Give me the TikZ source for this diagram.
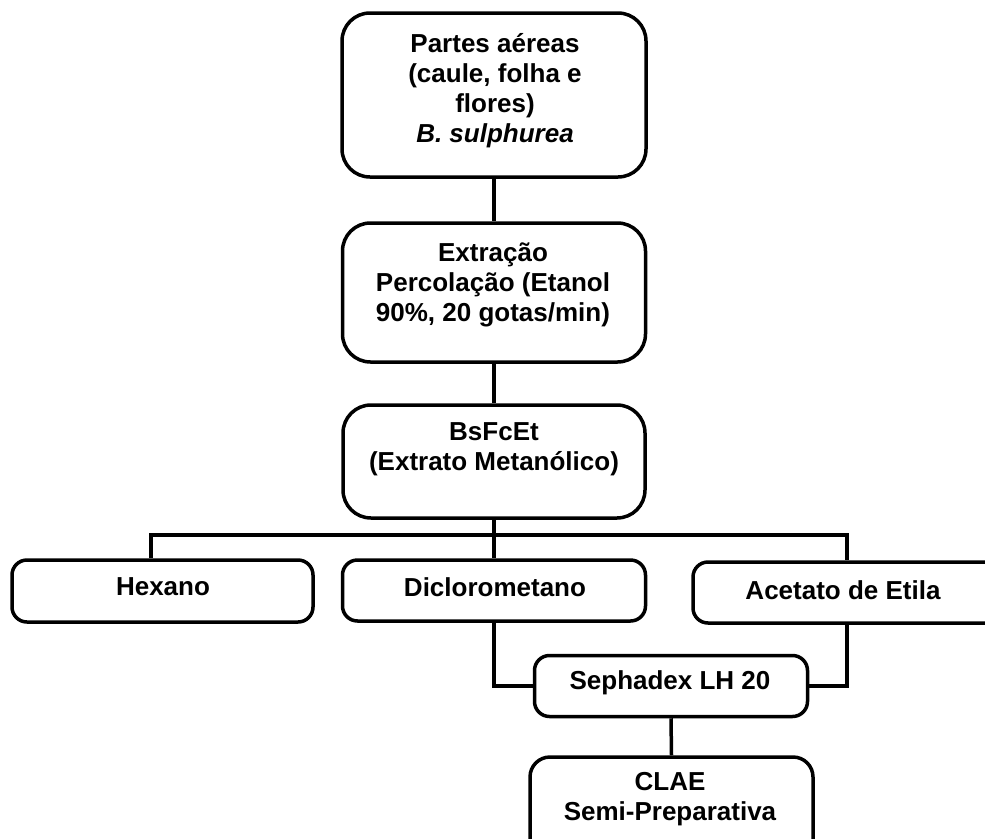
\documentclass[tikz,border=0pt]{standalone}
\usepackage{fontspec}
\setmainfont{Liberation Sans}
\begin{document}
\begin{tikzpicture}[x=1pt,y=-1pt,
  box/.style={draw=black, line width=3.5pt, fill=white, inner sep=0pt},
  bigbox/.style={box, rounded corners=28pt},
  smallbox/.style={box, rounded corners=15pt},
  txt/.style={inner sep=0pt, align=center, font=\fontsize{26}{30}\selectfont\bfseries},
  conn/.style={draw=black, line width=3.5pt}]
\useasboundingbox (0,0) rectangle (985,838);
% boxes
\node[bigbox, minimum width=304pt, minimum height=164pt] (b1) at (494,95) {};
\node[bigbox, minimum width=303pt, minimum height=139pt] (b2) at (494,292.5) {};
\node[bigbox, minimum width=302pt, minimum height=113pt] (b3) at (494,461.5) {};
\node[smallbox, minimum width=301pt, minimum height=62pt] (hex) at (162.5,591) {};
\node[smallbox, minimum width=303pt, minimum height=61pt] (dic) at (494,590.5) {};
\node[smallbox, minimum width=317pt, minimum height=61pt] (ace) at (851.5,592.5) {};
\node[smallbox, minimum width=273pt, minimum height=61pt] (seph) at (671,686) {};
\node[box, rounded corners=20pt, minimum width=283pt, minimum height=103pt] (clae) at (671.5,808.5) {};
% texts
\node[txt] (b1t) at (495,91) {Partes aéreas\\(caule, folha e\\flores)\\\itshape B. sulphurea};
\node[txt] (b2t) at (493,285) {Extração\\Percolação (Etanol\\90\%, 20 gotas/min)};
\node[txt] (b3t) at (494,449) {BsFcEt\\(Extrato Metanólico)};
\node[txt] (hext) at (163,587) {Hexano};
\node[txt] (dict) at (495,587) {Diclorometano};
\node[txt] (acet) at (843,590) {Acetato de Etila};
\node[txt] (sepht) at (670,683) {Sephadex LH 20};
\node[txt] (claet) at (670,799) {CLAE\\Semi-Preparativa};
% connectors
\coordinate (barL) at (151,535);
\coordinate (barR) at (847,535);
\draw[conn] (b1.south) -- (b2.north);
\draw[conn] (b2.south) -- (b3.north);
\draw[conn] (b3.south) -- (dic.north);
\draw[conn] (barL |- hex.north) -- (barL) -- (barR) -- (barR |- ace.north);
\draw[conn] (dic.south) |- (seph.west);
\draw[conn] (barR |- ace.south) |- (seph.east);
\draw[conn] (seph.south) -- (clae.north);
\end{tikzpicture}
\end{document}
